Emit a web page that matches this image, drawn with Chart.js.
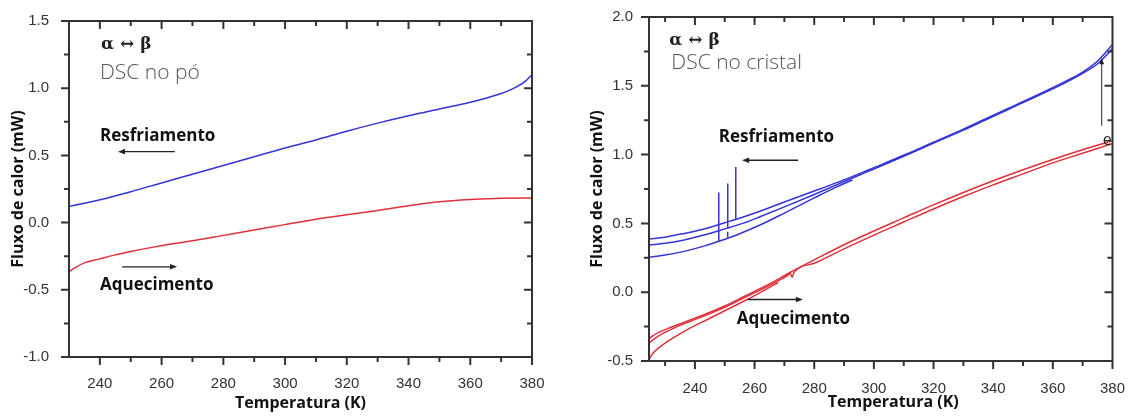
<!DOCTYPE html>
<html>
<head>
  <meta charset="utf-8" />
  <title>DSC alfa - beta</title>
  <script src="https://cdn.jsdelivr.net/npm/chart.js"></script>
  <style>
    body { margin: 0; background: #fff; width: 1136px; height: 416px; overflow: hidden; position: relative; }
    canvas { position: absolute; top: 0; }
  </style>
</head>
<body>
  <canvas id="po" width="560" height="416" style="left:0"></canvas>
  <canvas id="cristal" width="576" height="416" style="left:560px"></canvas>
  <script>
    // painel esquerdo: DSC no pó
    const poTempCool = [230, 240, 250, 260, 270, 280, 290, 300, 310, 320, 330, 340, 350, 360, 365, 370, 375, 378, 380];
    const poFluxCool = [0.12, 0.17, 0.23, 0.295, 0.36, 0.425, 0.49, 0.555, 0.615, 0.68, 0.74, 0.795, 0.845, 0.895, 0.925, 0.96, 1.01, 1.055, 1.10];
    const poTempHeat = [230, 232, 235, 240, 245, 250, 256, 263, 270, 280, 290, 300, 310, 320, 330, 340, 350, 360, 370, 380];
    const poFluxHeat = [-0.366, -0.335, -0.30, -0.27, -0.24, -0.215, -0.188, -0.16, -0.135, -0.095, -0.055, -0.015, 0.025, 0.058, 0.09, 0.125, 0.155, 0.172, 0.182, 0.183];

    // painel direito: DSC no cristal (3 resfriamentos, 3 aquecimentos)
    const crTempCool1 = [224.6, 230, 236, 243, 250, 256, 262, 270, 280, 288, 295, 300, 310, 320, 330, 337, 345, 355, 364, 370, 375, 380];
    const crFluxCool1 = [0.387, 0.40, 0.425, 0.46, 0.505, 0.545, 0.59, 0.655, 0.735, 0.80, 0.86, 0.905, 0.995, 1.09, 1.185, 1.255, 1.335, 1.435, 1.53, 1.60, 1.68, 1.80];
    const crTempCool2 = [224.6, 230, 236, 243, 250, 256, 262, 270, 280, 288, 295, 300, 310, 320, 330, 337, 345, 355, 364, 370, 375, 380];
    const crFluxCool2 = [0.343, 0.355, 0.378, 0.415, 0.46, 0.50, 0.55, 0.62, 0.71, 0.785, 0.85, 0.895, 0.988, 1.083, 1.178, 1.248, 1.328, 1.428, 1.52, 1.59, 1.66, 1.77];
    const crTempCool3 = [224.6, 230, 236, 243, 248, 255, 262, 270, 280, 287, 292.8];
    const crFluxCool3 = [0.254, 0.27, 0.295, 0.335, 0.37, 0.425, 0.49, 0.575, 0.685, 0.76, 0.815];
    // picos de cristalização
    const crSpikeTemp = [248, 251, 253.7, 251];
    const crSpikeBase = [0.37, 0.47, 0.53, 0.395];
    const crSpikeTop = [0.725, 0.79, 0.91, 0.44];

    const crTempHeat1 = [224.6, 226, 228, 232, 238, 244, 250, 257, 265, 272, 280, 290, 300, 310, 320, 330, 340, 350, 360, 370, 380];
    const crFluxHeat1 = [-0.338, -0.315, -0.29, -0.255, -0.205, -0.155, -0.10, -0.025, 0.06, 0.145, 0.235, 0.345, 0.445, 0.54, 0.635, 0.725, 0.81, 0.89, 0.965, 1.035, 1.10];
    const crTempHeat2 = [224.6, 226, 228, 232, 238, 244, 250, 257, 265, 271, 272, 272.6, 273.2, 280, 290, 300, 310, 320, 330, 340, 350, 360, 370, 380];
    const crFluxHeat2 = [-0.374, -0.345, -0.315, -0.27, -0.215, -0.165, -0.11, -0.035, 0.05, 0.12, 0.135, 0.108, 0.142, 0.21, 0.315, 0.415, 0.51, 0.605, 0.695, 0.78, 0.86, 0.94, 1.01, 1.08];
    const crTempHeat3 = [224.6, 225.5, 227, 230, 234, 238, 244, 250, 255, 260, 265, 268];
    const crFluxHeat3 = [-0.49, -0.455, -0.42, -0.37, -0.315, -0.265, -0.2, -0.135, -0.08, -0.025, 0.035, 0.07];

    const tempTicks = [240, 260, 280, 300, 320, 340, 360, 380];
    const poFluxTicks = [-1.0, -0.5, 0.0, 0.5, 1.0, 1.5];
    const crFluxTicks = [-0.5, 0.0, 0.5, 1.0, 1.5, 2.0];

    const BLUE = '#3434d4', RED = '#e0303a', INK = '#333333';

    // moldura com ticks: fora em baixo/esquerda, para dentro em cima/direita
    const framePlugin = {
      id: 'frame',
      afterDraw(chart) {
        const ctx = chart.ctx, a = chart.chartArea;
        const sx = chart.scales.x, sy = chart.scales.y;
        const yMaj = chart.options.plugins.frame.yTicks.slice();
        const xMinor = tempTicks.map(v => v - 10).filter(v => v > sx.min + 1);
        const yMinor = yMaj.map(v => v - 0.25).filter(v => v > sy.min);
        ctx.save();
        ctx.setLineDash([]);
        ctx.globalAlpha = 1;
        ctx.strokeStyle = INK;
        ctx.lineWidth = 2;
        ctx.beginPath();
        ctx.rect(a.left, a.top, a.right - a.left, a.bottom - a.top);
        for (const [vals, len] of [[tempTicks, 8], [xMinor, 5]]) {
          for (const v of vals) {
            const px = sx.getPixelForValue(v);
            ctx.moveTo(px, a.bottom); ctx.lineTo(px, a.bottom + len);
            ctx.moveTo(px, a.top); ctx.lineTo(px, a.top + len);
          }
        }
        for (const [vals, len] of [[yMaj, 8], [yMinor, 5]]) {
          for (const v of vals) {
            const py = sy.getPixelForValue(v);
            ctx.moveTo(a.left, py); ctx.lineTo(a.left - len, py);
            ctx.moveTo(a.right, py); ctx.lineTo(a.right - len, py);
          }
        }
        ctx.stroke();
        ctx.restore();
      }
    };

    // textos e setas das anotações, em coordenadas de dados
    const notesPlugin = {
      id: 'notes',
      afterDraw(chart, args, opts) {
        const { ctx, scales: { x, y } } = chart;
        ctx.save();
        (opts.items || []).forEach(n => {
          if (n.text) {
            ctx.font = n.font;
            ctx.fillStyle = n.color || '#111';
            ctx.textAlign = 'left';
            ctx.textBaseline = 'alphabetic';
            ctx.fillText(n.text, x.getPixelForValue(n.x), y.getPixelForValue(n.y));
          } else {
            const x1 = x.getPixelForValue(n.x1), y1 = y.getPixelForValue(n.y1);
            const x2 = x.getPixelForValue(n.x2), y2 = y.getPixelForValue(n.y2);
            const ang = Math.atan2(y2 - y1, x2 - x1);
            const h = n.head || 7;
            ctx.strokeStyle = '#222'; ctx.fillStyle = '#222';
            ctx.lineWidth = n.width || 1.3;
            ctx.beginPath();
            ctx.moveTo(x1, y1);
            ctx.lineTo(x2 - Math.cos(ang) * h * 0.8, y2 - Math.sin(ang) * h * 0.8);
            ctx.stroke();
            ctx.beginPath();
            ctx.moveTo(x2, y2);
            ctx.lineTo(x2 - h * Math.cos(ang) + h * 0.4 * Math.sin(ang), y2 - h * Math.sin(ang) - h * 0.4 * Math.cos(ang));
            ctx.lineTo(x2 - h * Math.cos(ang) - h * 0.4 * Math.sin(ang), y2 - h * Math.sin(ang) + h * 0.4 * Math.cos(ang));
            ctx.closePath();
            ctx.fill();
          }
        });
        ctx.restore();
      }
    };

    const line = (temps, flux, color) => ({
      data: temps.map((t, i) => ({ x: t, y: flux[i] })),
      borderColor: color,
      borderWidth: 1.5,
      showLine: true,
      pointRadius: 0,
      cubicInterpolationMode: 'monotone'
    });
    const spikes = () => crSpikeTemp.map((t, i) => ({
      data: [{ x: t, y: crSpikeBase[i] }, { x: t, y: crSpikeTop[i] }],
      borderColor: BLUE,
      borderWidth: 1.5,
      showLine: true,
      pointRadius: 0,
      tension: 0
    }));

    const tickFont = { family: '"Liberation Sans", Arial, sans-serif', size: 15 };
    const titleFont = { family: '"Open Sans", sans-serif', size: 16, weight: 'bold' };

    function panel(id, p) {
      return new Chart(document.getElementById(id), {
        type: 'scatter',
        data: { datasets: p.datasets },
        options: {
          responsive: false,
          animation: false,
          layout: { padding: p.pad },
          plugins: {
            legend: { display: false }, tooltip: { enabled: false },
            notes: { items: p.notes }, frame: { yTicks: p.yTicks }
          },
          scales: {
            x: {
              type: 'linear', min: p.xMin, max: 380,
              afterBuildTicks: s => { s.ticks = tempTicks.map(v => ({ value: v })); },
              afterFit: s => { s.height = p.xAxisH; },
              grid: { display: false }, border: { display: false },
              ticks: { font: tickFont, color: '#333', padding: p.xPad, maxRotation: 0, callback: v => String(v) },
              title: { display: true, text: p.xTitle, font: titleFont, color: '#111', padding: { top: 0, bottom: p.xTitlePad } }
            },
            y: {
              min: p.yTicks[0], max: p.yTicks[p.yTicks.length - 1],
              afterBuildTicks: s => { s.ticks = p.yTicks.map(v => ({ value: v })); },
              afterFit: s => { s.width = p.yAxisW; },
              grid: { display: false }, border: { display: false },
              ticks: { font: tickFont, color: '#333', padding: p.yPad, callback: v => v.toFixed(1) },
              title: { display: true, text: 'Fluxo de calor (mW)', font: titleFont, color: '#111', padding: { top: p.yTitlePad, bottom: 0 } }
            }
          }
        },
        plugins: [framePlugin, notesPlugin]
      });
    }

    const bold17 = 'bold 17px "Open Sans", sans-serif';
    const greek = 'bold 17px "DejaVu Serif", serif';
    const light21 = '300 21px "Open Sans", sans-serif';

    panel('po', {
      xMin: 230, yTicks: poFluxTicks, xTitle: 'Temperatura (K)',
      pad: { top: 15, right: 28, left: 0, bottom: 0 },
      xAxisH: 59, yAxisW: 69, xPad: 10, yPad: 12, xTitlePad: 3, yTitlePad: 9,
      datasets: [line(poTempCool, poFluxCool, BLUE), line(poTempHeat, poFluxHeat, RED)],
      notes: [
        { text: 'α ↔ β', x: 240.4, y: 1.288, font: greek, color: '#222' },
        { text: 'DSC no pó', x: 240.05, y: 1.072, font: light21, color: '#555' },
        { text: 'Resfriamento', x: 240.05, y: 0.609, font: bold17 },
        { x1: 264.3, y1: 0.528, x2: 245.9, y2: 0.528 },
        { text: 'Aquecimento', x: 240.05, y: -0.499, font: bold17 },
        { x1: 247.2, y1: -0.329, x2: 265.0, y2: -0.329 }
      ]
    });

    panel('cristal', {
      xMin: 224.6, yTicks: crFluxTicks, xTitle: '      Temperatura (K)',
      pad: { top: 16, right: 16.5, left: 0, bottom: 0 },
      xAxisH: 55, yAxisW: 89, xPad: 11, yPad: 8, xTitlePad: 4, yTitlePad: 28,
      datasets: [
        line(crTempCool1, crFluxCool1, BLUE), line(crTempCool2, crFluxCool2, BLUE), line(crTempCool3, crFluxCool3, BLUE),
        ...spikes(),
        line(crTempHeat1, crFluxHeat1, RED), line(crTempHeat2, crFluxHeat2, RED), line(crTempHeat3, crFluxHeat3, RED)
      ],
      notes: [
        { text: 'α ↔ β', x: 231.4, y: 1.795, font: greek, color: '#222' },
        { text: 'DSC no cristal', x: 232.1, y: 1.621, font: light21, color: '#555' },
        { text: 'Resfriamento', x: 248.0, y: 1.088, font: bold17 },
        { x1: 274.6, y1: 0.959, x2: 255.8, y2: 0.959 },
        { text: 'Aquecimento', x: 254.0, y: -0.229, font: bold17 },
        { x1: 257.6, y1: -0.053, x2: 276.2, y2: -0.053 },
        { x1: 376.4, y1: 1.21, x2: 376.4, y2: 1.70, width: 1, head: 6 },
        { text: 'e', x: 376.7, y: 1.07, font: '16px "Open Sans", sans-serif', color: '#222' }
      ]
    });
  </script>
</body>
</html>
